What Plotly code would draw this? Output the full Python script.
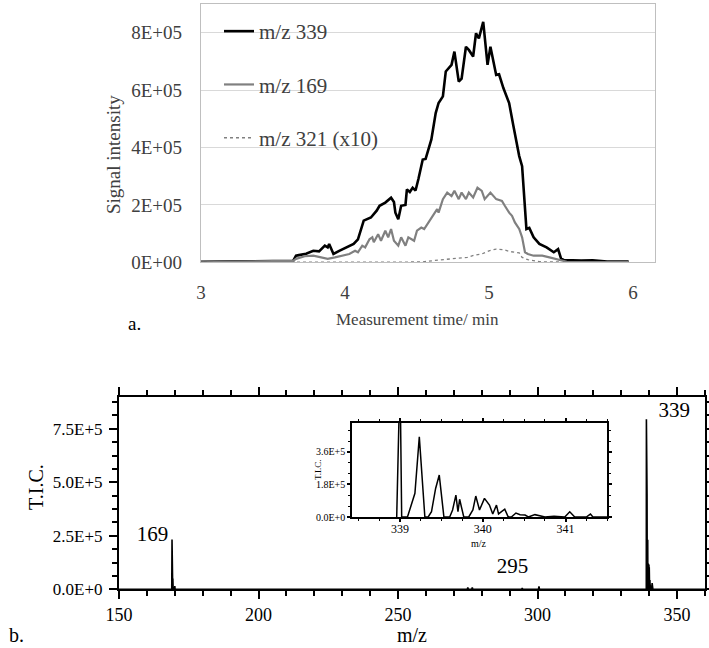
import plotly.graph_objects as go

# ---------------- panel a: extracted ion chromatograms ----------------
t339 = [3.00, 3.30, 3.50, 3.64, 3.66, 3.68, 3.73, 3.78, 3.82, 3.86, 3.88, 3.89, 3.92, 3.96, 4.01, 4.06,
        4.09, 4.13, 4.18, 4.22, 4.24, 4.28, 4.32, 4.34, 4.35, 4.37, 4.39, 4.42, 4.43, 4.45, 4.47, 4.49,
        4.51, 4.54, 4.56, 4.60, 4.63, 4.65, 4.68, 4.70, 4.74, 4.76, 4.79, 4.81, 4.84, 4.86, 4.89, 4.91,
        4.93, 4.96, 4.99, 5.01, 5.05, 5.07, 5.10, 5.14, 5.17, 5.21, 5.23, 5.25, 5.26, 5.28, 5.31, 5.35,
        5.40, 5.45, 5.48, 5.50, 5.52, 5.64, 5.72, 5.82, 5.97]
i339 = [2000, 2000, 4000, 5000, 23000, 25000, 30000, 40000, 38000, 58000, 52000, 64000, 29000, 40000, 52000, 64000,
        80000, 145000, 156000, 180000, 197000, 208000, 225000, 210000, 173000, 150000, 197000, 200000, 254000, 245000, 260000, 250000,
        290000, 358000, 360000, 428000, 520000, 555000, 578000, 665000, 688000, 734000, 630000, 640000, 751000, 740000, 717000, 798000,
        780000, 838000, 688000, 751000, 653000, 655000, 607000, 555000, 474000, 370000, 335000, 173000, 116000, 120000, 87000, 64000,
        52000, 35000, 46000, 14000, 8000, 6000, 7000, 3000, 3000]

t169 = [3.00, 3.50, 3.64, 3.66, 3.72, 3.78, 3.83, 3.88, 3.93, 3.98, 4.03, 4.07, 4.09, 4.12, 4.14, 4.17,
        4.19, 4.20, 4.23, 4.25, 4.28, 4.30, 4.32, 4.34, 4.37, 4.39, 4.42, 4.44, 4.48, 4.50, 4.53, 4.55,
        4.58, 4.61, 4.64, 4.65, 4.68, 4.71, 4.74, 4.76, 4.79, 4.81, 4.84, 4.86, 4.89, 4.92, 4.95, 4.97,
        5.01, 5.05, 5.09, 5.11, 5.14, 5.16, 5.18, 5.21, 5.23, 5.25, 5.27, 5.31, 5.37, 5.42, 5.46, 5.50,
        5.54, 5.97]
i169 = [0, 2000, 5000, 12000, 21000, 23000, 17000, 12000, 17000, 23000, 29000, 40000, 35000, 58000, 52000, 80000,
        87000, 70000, 98000, 75000, 110000, 87000, 116000, 75000, 58000, 87000, 58000, 87000, 75000, 110000, 121000, 116000,
        139000, 162000, 185000, 173000, 220000, 243000, 231000, 249000, 220000, 243000, 220000, 243000, 226000, 260000, 249000, 220000,
        243000, 220000, 214000, 197000, 173000, 162000, 139000, 116000, 87000, 35000, 29000, 23000, 23000, 17000, 12000, 6000,
        2000, 1000]

t321 = [3.00, 4.53, 4.65, 4.78, 4.85, 4.90, 4.95, 5.00, 5.05, 5.10, 5.15, 5.21, 5.23, 5.27, 5.35, 5.50]
i321 = [0, 1000, 8000, 14000, 17000, 25000, 29000, 40000, 46000, 44000, 37000, 33000, 17000, 9000, 2000, 1000]

a_yticks = [0, 200000, 400000, 600000, 800000]
a_yticktext = ["0E+00", "2E+05", "4E+05", "6E+05", "8E+05"]
a_xticks = [3, 4, 5, 6]

# ---------------- panel b: mass spectrum ----------------
spec_mz = [150, 168.9, 169.0, 169.1, 169.25, 169.3, 169.4, 169.9, 170.0, 170.1,
           274.8, 275.0, 275.2, 276.4, 276.6, 276.8, 294.3, 294.5, 294.7, 300.3, 300.5, 300.7]
spec_int = [0, 0, 233000, 0, 0, 50000, 0, 0, 15000, 0,
            0, 9000, 0, 0, 9000, 0, 0, 6000, 0, 0, 14000, 0]

# m/z 339 cluster (also shown in the inset)
clu_mz = [338.96, 339.0, 339.02, 339.09, 339.18, 339.233, 339.30, 339.34, 339.38, 339.43, 339.474, 339.53,
          339.60, 339.635, 339.675, 339.70, 339.72, 339.77, 339.83, 339.88, 339.915, 339.96, 340.02, 340.08,
          340.12, 340.165, 340.19, 340.225, 340.265, 340.305, 340.345, 340.40, 340.45, 340.51, 340.55, 340.63,
          340.69, 340.75, 340.86, 340.99, 341.05, 341.11, 341.25, 341.30, 341.33, 341.5, 360]
clu_int = [0, 795000, 0, 0, 131000, 443000, 0, 0, 29000, 158000, 232000, 0,
           0, 39000, 121000, 29000, 98000, 0, 0, 39000, 116000, 39000, 103000, 66000,
           17000, 66000, 17000, 29000, 43000, 2000, 0, 22000, 13000, 11000, 0, 13000,
           7000, 0, 4000, 0, 29000, 0, 0, 16000, 0, 0, 0]

b_yticks = [0, 250000, 500000, 750000]
b_yticktext = ["0.0E+0", "2.5E+5", "5.0E+5", "7.5E+5"]
ins_yticks = [0, 180000, 360000]
ins_yticktext = ["0.0E+0", "1.8E+5", "3.6E+5"]
ins_xticks = [339, 340, 341]

peak_labels = ["169", "339", "295"]
peak_label_mz = [162, 349, 291]
peak_label_int = [252000, 830000, 100000]

SERIF = "Liberation Serif"
W, H = 709, 648

fig = go.Figure()
fig.add_trace(go.Scatter(x=t339, y=i339, mode="lines", name="m/z 339", legendgroup="a",
                         line=dict(color="#000000", width=2.6), xaxis="x", yaxis="y"))
fig.add_trace(go.Scatter(x=t169, y=i169, mode="lines", name="m/z 169", legendgroup="b",
                         line=dict(color="#808080", width=2.2), xaxis="x", yaxis="y"))
fig.add_trace(go.Scatter(x=t321, y=i321, mode="lines", name="m/z 321 (x10)", legendgroup="c",
                         line=dict(color="#808080", width=1.3, dash="dot"), xaxis="x", yaxis="y"))

fig.add_trace(go.Scatter(x=spec_mz + clu_mz, y=spec_int + clu_int, mode="lines", showlegend=False,
                         line=dict(color="#000000", width=1.6), xaxis="x2", yaxis="y2"))
fig.add_trace(go.Scatter(x=clu_mz, y=clu_int, mode="lines", showlegend=False,
                         line=dict(color="#000000", width=1.5), xaxis="x3", yaxis="y3"))

fig.add_trace(go.Scatter(x=peak_label_mz, y=peak_label_int, mode="text", text=peak_labels,
                         textfont=dict(family=SERIF, size=21, color="#000"), showlegend=False,
                         hoverinfo="skip", xaxis="x2", yaxis="y2"))

def px(x): return x / W
def py(y): return 1 - y / H

fig.update_layout(
    template="none",
    width=W, height=H, margin=dict(l=0, r=0, t=0, b=0, autoexpand=False),
    paper_bgcolor="white", plot_bgcolor="white",
    font=dict(family=SERIF, color="#000"),
    legend=dict(x=px(219), y=py(11), xanchor="left", yanchor="top", bgcolor="rgba(0,0,0,0)",
                font=dict(family=SERIF, size=21, color="#404040"), tracegroupgap=23, itemwidth=30),
    xaxis=dict(domain=[px(201), px(655)], range=[3, 6.153], tickvals=a_xticks, anchor="y",
               showline=True, linecolor="#bfbfbf", linewidth=1.2, mirror=True, showgrid=False,
               zeroline=False, ticks="", ticklabelstandoff=13, automargin=False,
               tickfont=dict(family=SERIF, size=19, color="#404040")),
    yaxis=dict(domain=[py(262.3), py(4)], range=[0, 900000], tickvals=a_yticks, ticktext=a_yticktext,
               anchor="x", showline=True, linecolor="#bfbfbf", linewidth=1.2, mirror=True,
               showgrid=True, gridcolor="#d9d9d9", gridwidth=1.2, zeroline=False, ticks="", ticklabelstandoff=14,
               automargin=False, tickfont=dict(family=SERIF, size=19, color="#404040")),
    xaxis2=dict(domain=[px(119), px(705)], range=[150, 360], tick0=150, dtick=50, anchor="y2",
                showline=True, linecolor="#000", linewidth=2, mirror="ticks", showgrid=False,
                zeroline=False, ticks="outside", ticklen=8, tickwidth=2, tickcolor="#000",
                ticklabelstandoff=0, automargin=False,
                minor=dict(dtick=10, tick0=150, ticks="outside", ticklen=5, tickwidth=1.5, tickcolor="#000"),
                tickfont=dict(family=SERIF, size=18, color="#000")),
    yaxis2=dict(domain=[py(589.3), py(396.7)], range=[0, 900000], tickvals=b_yticks, ticktext=b_yticktext,
                anchor="x2", showline=True, linecolor="#000", linewidth=2, mirror="ticks", showgrid=False,
                zeroline=False, ticks="outside", ticklen=8, tickwidth=2, tickcolor="#000",
                ticklabelstandoff=3, automargin=False,
                minor=dict(dtick=62500, tick0=0, ticks="outside", ticklen=5, tickwidth=1.5, tickcolor="#000"),
                tickfont=dict(family=SERIF, size=17, color="#000")),
    xaxis3=dict(domain=[px(352), px(607)], range=[338.42, 341.5], tickvals=ins_xticks, anchor="y3",
                showline=True, linecolor="#000", linewidth=1.5, mirror="ticks", showgrid=False,
                zeroline=False, ticks="outside", ticklen=3, tickwidth=1.5, tickcolor="#000",
                ticklabelstandoff=-3, automargin=False,
                minor=dict(dtick=0.25, tick0=339, ticks="outside", ticklen=2, tickwidth=1, tickcolor="#000"),
                tickfont=dict(family=SERIF, size=12, color="#000")),
    yaxis3=dict(domain=[py(517), py(423)], range=[0, 520000], tickvals=ins_yticks, ticktext=ins_yticktext,
                anchor="x3", showline=True, linecolor="#000", linewidth=1.5, mirror="ticks", showgrid=False,
                zeroline=False, ticks="outside", ticklen=3, tickwidth=1.5, tickcolor="#000",
                automargin=False,
                minor=dict(dtick=60000, tick0=0, ticks="outside", ticklen=2, tickwidth=1, tickcolor="#000"),
                tickfont=dict(family=SERIF, size=10, color="#000")),
)

ann = [
    dict(text="Signal intensity", x=px(113), y=py(155), textangle=-90, font=dict(size=19, color="#404040")),
    dict(text="Measurement time/ min", x=px(417), y=py(319), font=dict(size=17, color="#404040")),
    dict(text="a.", x=px(134), y=py(323), font=dict(size=19, color="#000")),
    dict(text="T.I.C.", x=px(36), y=py(487), textangle=-90, font=dict(size=20, color="#000")),
    dict(text="m/z", x=px(412), y=py(635), font=dict(size=20, color="#000")),
    dict(text="b.", x=px(16), y=py(635), font=dict(size=20, color="#000")),
    dict(text="T.I.C.", x=px(318), y=py(470), textangle=-90, font=dict(size=9, color="#000")),
    dict(text="m/z", x=px(479), y=py(543), font=dict(size=10, color="#000")),
]
for a in ann:
    a.update(xref="paper", yref="paper", showarrow=False, xanchor="center", yanchor="middle")
    a["font"]["family"] = SERIF
fig.update_layout(annotations=ann)

fig.write_html("out.html")
